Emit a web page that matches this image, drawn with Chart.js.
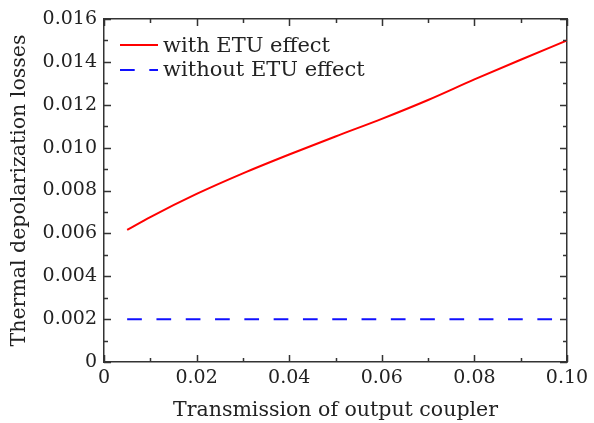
<!DOCTYPE html>
<html>
<head>
<meta charset="utf-8">
<script src="https://cdn.jsdelivr.net/npm/chart.js@4/dist/chart.umd.min.js"></script>
<style>
  html, body { margin: 0; padding: 0; background: #fff; }
  #wrap { width: 594px; height: 423px; }
</style>
</head>
<body>
<div id="wrap"><canvas id="lossChart" width="594" height="423"></canvas></div>
<script>
// values
const transmission = [0.005, 0.01, 0.02, 0.03, 0.04, 0.05, 0.06, 0.07, 0.08, 0.09, 0.10];
const withETU = [0.00616, 0.00676, 0.00784, 0.00880, 0.00968, 0.01052, 0.01134, 0.01222, 0.01318, 0.01410, 0.01500];
const withoutETU = [0.002, 0.002, 0.002, 0.002, 0.002, 0.002, 0.002, 0.002, 0.002, 0.002, 0.002];
const seriesNames = ['with ETU effect', 'without ETU effect'];

const xTitle = 'Transmission of output coupler';
const yTitle = 'Thermal depolarization losses';

const serif = 'DejaVu Serif';
const frameColor = '#333';

function toPoints(xs, ys) {
  return xs.map((x, i) => ({ x: x, y: ys[i] }));
}

// inward major/minor ticks on all four sides
const insideTicks = {
  id: 'insideTicks',
  afterDraw(chart) {
    const { ctx, chartArea: a } = chart;
    const xs = chart.scales.x, ys = chart.scales.y;
    ctx.save();
    ctx.strokeStyle = frameColor;
    ctx.lineWidth = 1.5;
    ctx.beginPath();
    xs.ticks.forEach((t, i) => {
      const px = Math.round(xs.getPixelForValue(t.value)) + 0.5;
      const len = i % 2 ? 4 : 7;
      ctx.moveTo(px, a.bottom); ctx.lineTo(px, a.bottom - len);
      ctx.moveTo(px, a.top); ctx.lineTo(px, a.top + len);
    });
    ys.ticks.forEach((t, i) => {
      const py = Math.round(ys.getPixelForValue(t.value)) + 0.5;
      const len = i % 2 ? 4 : 7;
      ctx.moveTo(a.left, py); ctx.lineTo(a.left + len, py);
      ctx.moveTo(a.right, py); ctx.lineTo(a.right - len, py);
    });
    ctx.stroke();
    ctx.restore();
  }
};

// legend drawn inside the plot, upper left
const innerLegend = {
  id: 'innerLegend',
  afterDraw(chart) {
    const { ctx } = chart;
    ctx.save();
    ctx.font = '21px "' + serif + '"';
    ctx.textBaseline = 'alphabetic';
    chart.data.datasets.forEach((ds, i) => {
      const y = 45 + i * 25;
      ctx.strokeStyle = ds.borderColor;
      ctx.lineWidth = ds.borderWidth;
      ctx.setLineDash(ds.borderDash || []);
      ctx.beginPath();
      ctx.moveTo(120, y);
      ctx.lineTo(158, y);
      ctx.stroke();
      ctx.fillStyle = '#222';
      ctx.fillText(ds.label, 163, 52 + i * 24);
    });
    ctx.restore();
  }
};

const frameAxis = (size) => ({
  display: true,
  ticks: { display: false },
  grid: { display: true, drawOnChartArea: false, drawTicks: false },
  border: { display: true, color: frameColor, width: 1.5 },
  afterFit(scale) {
    if (scale.isHorizontal()) scale.height = size; else scale.width = size;
  }
});

const ctx = document.getElementById('lossChart').getContext('2d');
const lossChart = new Chart(ctx, {
  type: 'line',
  data: {
    datasets: [{
      label: seriesNames[0],
      data: toPoints(transmission, withETU),
      borderColor: '#ff0000',
      borderWidth: 2,
      pointRadius: 0,
      cubicInterpolationMode: 'monotone',
      fill: false
    }, {
      label: seriesNames[1],
      data: toPoints(transmission, withoutETU),
      borderColor: '#1010ff',
      borderWidth: 2,
      borderDash: [14.7, 14.6],
      pointRadius: 0,
      fill: false
    }]
  },
  options: {
    responsive: false,
    animation: false,
    devicePixelRatio: 1,
    layout: { padding: 0 },
    plugins: {
      legend: { display: false },
      tooltip: { enabled: false }
    },
    scales: {
      x: {
        type: 'linear',
        position: 'bottom',
        min: 0,
        max: 0.1,
        ticks: {
          stepSize: 0.01,
          autoSkip: false,
          maxRotation: 0,
          padding: 5,
          color: '#222',
          font: { family: serif, size: 19 },
          callback: (v, i) => i % 2 ? '' : (v === 0 ? '0' : v.toFixed(2))
        },
        grid: { display: true, drawOnChartArea: false, drawTicks: false },
        border: { display: true, color: frameColor, width: 1.5 },
        title: {
          display: true,
          text: xTitle,
          color: '#222',
          font: { family: serif, size: 20.5 },
          padding: { top: 0, bottom: 0 }
        },
        afterFit(scale) { scale.height = 61; }
      },
      x2: Object.assign(frameAxis(19), { type: 'linear', position: 'top', min: 0, max: 0.1 }),
      y: {
        type: 'linear',
        position: 'left',
        min: 0,
        max: 0.016,
        ticks: {
          stepSize: 0.001,
          autoSkip: false,
          padding: 7,
          color: '#222',
          font: { family: serif, size: 19 },
          callback: (v, i) => i % 2 ? '' : (v === 0 ? '0' : v.toFixed(3))
        },
        grid: { display: true, drawOnChartArea: false, drawTicks: false },
        border: { display: true, color: frameColor, width: 1.5 },
        title: {
          display: true,
          text: yTitle,
          color: '#222',
          font: { family: serif, size: 20.5 },
          padding: { top: 7, bottom: 0 }
        },
        afterFit(scale) { scale.width = 104; }
      },
      y2: Object.assign(frameAxis(27), { type: 'linear', position: 'right', min: 0, max: 0.016 })
    }
  },
  plugins: [insideTicks, innerLegend]
});
</script>
</body>
</html>
